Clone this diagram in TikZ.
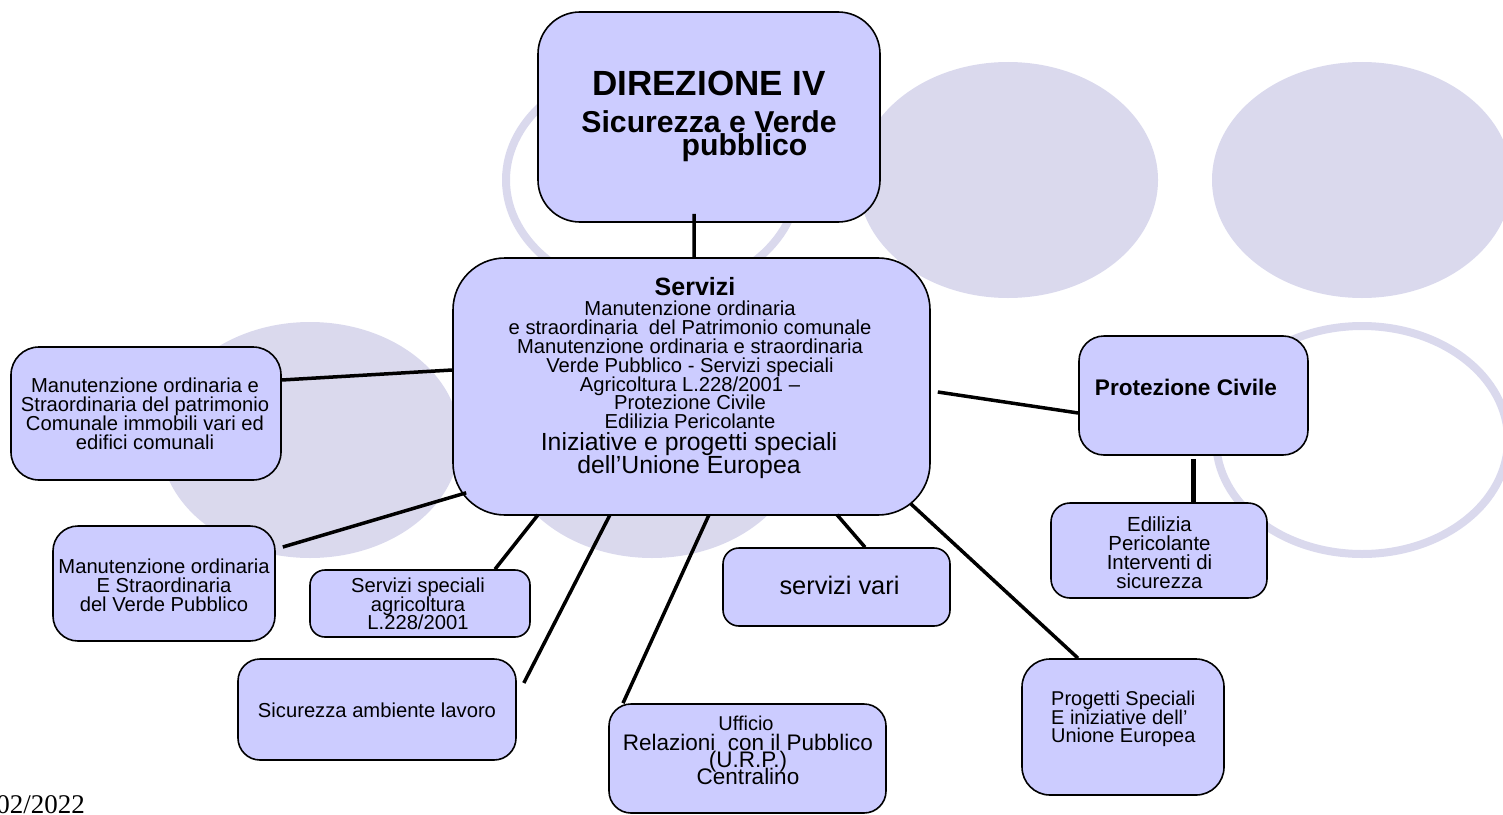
\documentclass[tikz,border=0pt]{standalone}
\usepackage{fontspec}
\setmainfont{Liberation Sans}
\newfontfamily\datefont{Liberation Serif}
\usetikzlibrary{calc}
\definecolor{boxc}{RGB}{204,204,255}
\definecolor{bgc}{RGB}{218,217,237}
\newcommand\fsz[2]{\fontsize{#1bp}{#2bp}\selectfont\lineskiplimit=-100bp\relax}
\tikzset{
  box/.style={draw=black, line width=1.6bp, fill=boxc, inner sep=0pt},
  conn/.style={draw=black, line width=3.5bp},
  txt/.style={inner sep=0pt, align=center, text=black},
  bgdisk/.style={fill=bgc},
  bgring/.style={draw=bgc, line width=8bp}
}
\begin{document}
\begin{tikzpicture}[x=1bp,y=-1bp]
\useasboundingbox (0,0) rectangle (1503,814);
\clip (0,0) rectangle (1503,814);
% background ellipses
\fill[bgdisk] (1008,180) ellipse [x radius=150, y radius=118];
\fill[bgdisk] (1362,180) ellipse [x radius=150, y radius=118];
\fill[bgdisk] (310,440) ellipse [x radius=150, y radius=118];
\fill[bgdisk] (652,440) ellipse [x radius=150, y radius=118];
\draw[bgring] (652,180) ellipse [x radius=146, y radius=114];
\draw[bgring] (1362,440) ellipse [x radius=146, y radius=114];

% boxes
\node[box, rounded corners=42bp, minimum width=342bp, minimum height=210bp] (dir) at (709,117) {};
\node[box, rounded corners=52bp, minimum width=477bp, minimum height=257bp] (serv) at (691.5,386.5) {};
\node[box, rounded corners=28bp, minimum width=270bp, minimum height=133bp] (l1) at (146,413.5) {};
\node[box, rounded corners=25bp, minimum width=222bp, minimum height=115bp] (l2) at (164,583.5) {};
\node[box, rounded corners=15bp, minimum width=220bp, minimum height=67bp] (ssa) at (420,603.5) {};
\node[box, rounded corners=22bp, minimum width=278bp, minimum height=101bp] (sal) at (377,709.5) {};
\node[box, rounded corners=22bp, minimum width=277bp, minimum height=109bp] (urp) at (747.5,758.5) {};
\node[box, rounded corners=16bp, minimum width=227bp, minimum height=78bp] (sv) at (836.5,587) {};
\node[box, rounded corners=28bp, minimum width=202bp, minimum height=136bp] (ps) at (1123,727) {};
\node[box, rounded corners=25bp, minimum width=229bp, minimum height=119bp] (pc) at (1193.5,395.5) {};
\node[box, rounded corners=19bp, minimum width=216bp, minimum height=95bp] (ed) at (1159,550.5) {};

% texts
\node[txt, font={\bfseries\fsz{35}{36}}] (dir-t1) at (709,83) {DIREZIONE IV};
\node[txt, font={\bfseries\fsz{30.2}{23.5}}] (dir-t2) at (709,136) {Sicurezza e Verde\\\hspace*{71bp}pubblico};
\node[txt, font={\bfseries\fsz{25}{24}}] (serv-t1) at (695,287) {Servizi};
\node[txt, font={\fsz{20.2}{18.85}}] (serv-t2) at (690,365) {Manutenzione ordinaria\\e straordinaria\ \ del Patrimonio comunale\\Manutenzione ordinaria e straordinaria\\Verde Pubblico - Servizi speciali\\Agricoltura L.228/2001 –\\Protezione Civile\\Edilizia Pericolante};
\node[txt, font={\fsz{24.8}{23}}] (serv-t3) at (689,456) {Iniziative e progetti speciali\\dell’Unione Europea};
\node[txt, font={\fsz{20.2}{19}}] (l1-t) at (145,414) {Manutenzione ordinaria e\\Straordinaria del patrimonio\\Comunale immobili vari ed\\edifici comunali};
\node[txt, font={\fsz{20.2}{19}}] (l2-t) at (164,585) {Manutenzione ordinaria\\E Straordinaria\\del Verde Pubblico};
\node[txt, font={\fsz{20.2}{18.5}}] (ssa-t) at (418,604) {Servizi speciali\\agricoltura\\L.228/2001};
\node[txt, font={\fsz{20.2}{19}}] (sal-t) at (377,710) {Sicurezza ambiente lavoro};
\node[txt, font={\fsz{20}{17}}] (urp-t1) at (746,723) {Ufficio};
\node[txt, font={\fsz{22.5}{17}}] (urp-t2) at (748,759) {Relazioni\ \ con il Pubblico\\(U.R.P.)\\Centralino};
\node[txt, font={\fsz{25.4}{24}}] (sv-t) at (839.5,585) {servizi vari};
\node[txt, font={\fsz{19.95}{18.5}}, align=left, anchor=west] (ps-t) at (1051,719) {Progetti Speciali\\E iniziative dell’\\Unione Europea};
\node[txt, font={\bfseries\fsz{22.6}{22}}] (pc-t) at (1186,387) {Protezione Civile};
\node[txt, font={\fsz{20.4}{19}}] (ed-t) at (1159.5,553) {Edilizia\\Pericolante\\Interventi di\\sicurezza};
\node[txt, font={\datefont\fsz{27}{28}}, anchor=base east] (date) at (85,813) {02/2022};

% connectors
\coordinate (salend) at ([xshift=7bp,yshift=26.5bp]sal.east);
\draw[conn] ([xshift=-15bp,yshift=9bp]dir.south) -- ([xshift=2.5bp]serv.north);
\draw[conn] ([yshift=16.5bp]serv.west) -- ([yshift=33.5bp]l1.east);
\draw[conn] ([xshift=14bp,yshift=23bp]serv.south west) -- ([xshift=7bp,yshift=36.5bp]l2.east);
\draw[conn] ([xshift=-153.5bp,yshift=1bp]serv.south) -- ([xshift=75bp]ssa.north);
\draw[conn] ([xshift=-81.5bp,yshift=1bp]serv.south) -- (salend);
\draw[conn] ([xshift=17.5bp,yshift=1bp]serv.south) -- ([xshift=-124.5bp]urp.north);
\draw[conn] ([xshift=145.5bp,yshift=1bp]serv.south) -- ([xshift=28.5bp]sv.north);
\draw[conn] ([xshift=-20bp,yshift=12bp]serv.south east) -- ([xshift=-45bp]ps.north);
\draw[conn] ([xshift=7bp,yshift=-5.5bp]serv.east) -- ([yshift=-17.5bp]pc.west);
\draw[conn, line width=5bp] ([yshift=-3bp]pc.south) -- (pc.south |- ed.north);
\end{tikzpicture}
\end{document}
